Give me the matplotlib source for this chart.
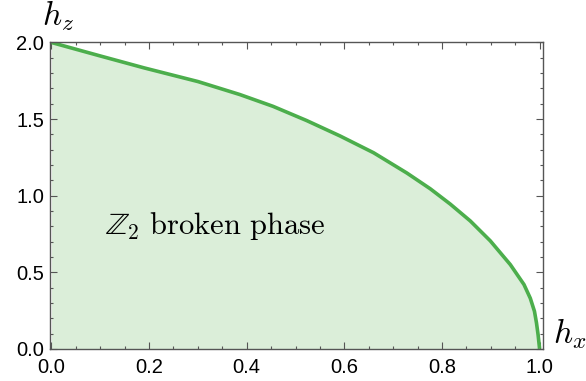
import matplotlib.pyplot as plt
from matplotlib.ticker import MultipleLocator

# phase boundary h_z(h_x)
hx = [0.0, 0.1, 0.19, 0.3, 0.386, 0.454, 0.523, 0.591, 0.66, 0.728, 0.776,
      0.817, 0.858, 0.899, 0.94, 0.968, 0.981, 0.9895, 0.9936, 0.997, 1.0]
hz = [2.0, 1.912, 1.834, 1.745, 1.66, 1.583, 1.49, 1.39, 1.28, 1.148, 1.045,
      0.945, 0.835, 0.705, 0.55, 0.42, 0.33, 0.245, 0.17, 0.09, 0.0]

xticks = [0.0, 0.2, 0.4, 0.6, 0.8, 1.0]
yticks = [0.0, 0.5, 1.0, 1.5, 2.0]

line_col = '#4cae4c'
fill_col = '#dbeed9'

plt.rcParams['mathtext.fontset'] = 'cm'

fig = plt.figure(figsize=(5.86, 3.81), dpi=100)
ax = fig.add_axes([0.0845, 0.0832, 0.8413, 0.8053])

ax.fill_between(hx, 0, hz, color=fill_col, lw=0)
ax.plot(hx, hz, color=line_col, lw=2.6, solid_capstyle='butt',
        solid_joinstyle='round')

ax.set_xlim(-0.004, 1.006)
ax.set_ylim(-0.003, 2.0)
ax.set_xticks(xticks)
ax.set_yticks(yticks)
ax.set_xticklabels([f'{t:.1f}' for t in xticks])
ax.set_yticklabels([f'{t:.1f}' for t in yticks])
ax.xaxis.set_minor_locator(MultipleLocator(0.05))
ax.yaxis.set_minor_locator(MultipleLocator(0.1))

for s in ax.spines.values():
    s.set_color('#555555')
    s.set_linewidth(1.0)
ax.tick_params(which='both', direction='in', top=True, right=True,
               color='#555555', width=0.8)
ax.tick_params(which='major', length=5, labelsize=14.5)
ax.tick_params(axis='x', which='major', pad=6)
ax.tick_params(axis='y', which='major', pad=4)
ax.tick_params(which='minor', length=2.5)
for lab in ax.get_xticklabels() + ax.get_yticklabels():
    lab.set_fontfamily('Liberation Sans')

ax.text(-0.015, 1.03, r'$h_z$', transform=ax.transAxes, fontsize=24,
        ha='left', va='bottom')
ax.text(1.022, -0.005, r'$h_x$', transform=ax.transAxes, fontsize=24,
        ha='left', va='bottom')

ax.text(0.11, 0.8, r'$\mathbb{Z}_2\ \mathrm{broken\ phase}$', fontsize=22,
        ha='left', va='center')

fig.savefig('out.png', dpi=100)
